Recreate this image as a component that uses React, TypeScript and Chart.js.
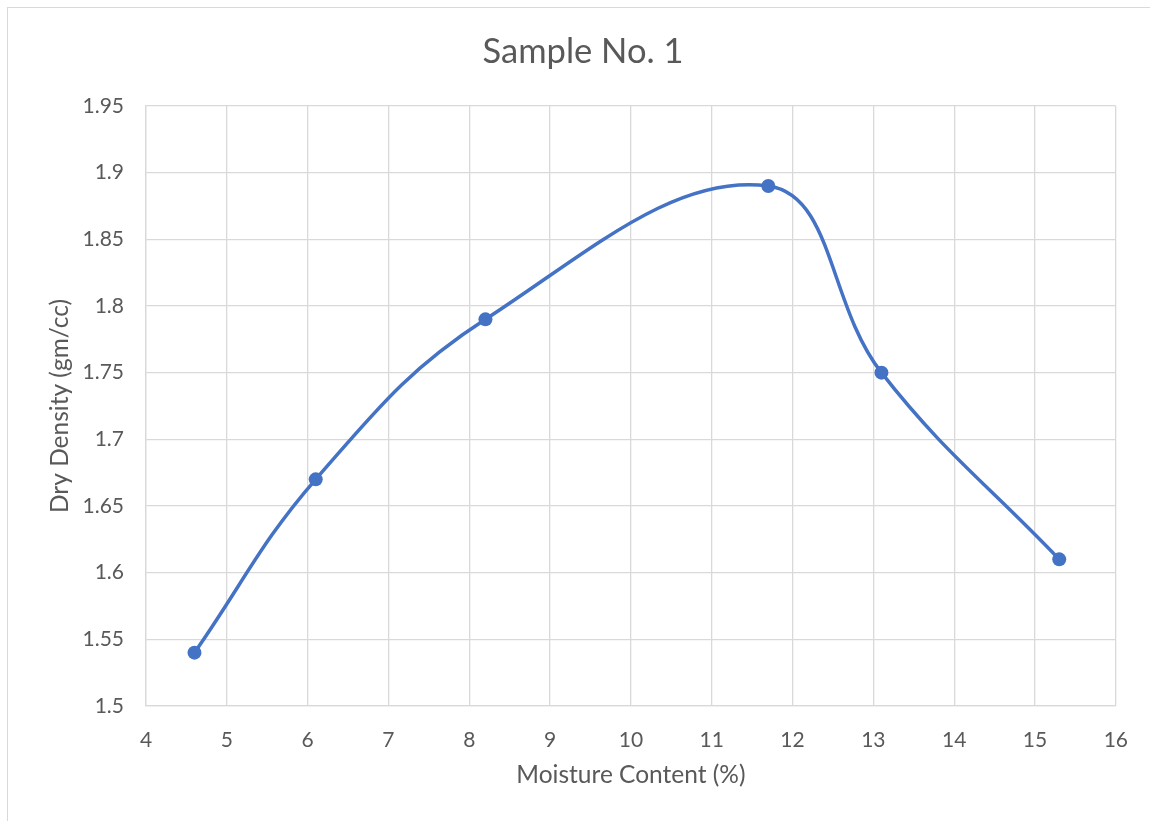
import React, { useEffect, useRef } from "react";
import { Chart, registerables } from "chart.js";

Chart.register(...registerables);

const chartTitle = "Sample No. 1";
const xAxisTitle = "Moisture Content (%)";
const yAxisTitle = "Dry Density (gm/cc)";
const moisture = [4.6, 6.1, 8.2, 11.7, 13.1, 15.3];
const dryDensity = [1.54, 1.67, 1.79, 1.89, 1.75, 1.61];
const xMin = 4;
const xMax = 16;
const yMin = 1.5;
const yMax = 1.95;

const FONT = "Lato, 'Open Sans', sans-serif";
const TEXT = "#595959";
const GRID = "#d9d9d9";
const BLUE = "#4472C4";

export default function App() {
  const ref = useRef<HTMLCanvasElement | null>(null);
  useEffect(() => {
    if (!ref.current) return;
    const titlePlugin = {
      id: "customTitle",
      afterDraw(chart: any) {
        const ctx = chart.ctx;
        ctx.save();
        ctx.font = `34.5px ${FONT}`;
        ctx.fillStyle = TEXT;
        ctx.textAlign = "center";
        ctx.textBaseline = "middle";
        ctx.fillText(chartTitle, 583, 52);
        ctx.restore();
      },
    };
    const chart = new Chart(ref.current, {
      type: "scatter",
      data: {
        datasets: [
          {
            data: moisture.map((x, i) => ({ x, y: dryDensity[i] })),
            showLine: true,
            borderColor: BLUE,
            backgroundColor: BLUE,
            borderWidth: 3.5,
            pointRadius: 7,
            pointHoverRadius: 7,
            pointBorderWidth: 0,
            tension: 0.4,
          },
        ],
      },
      options: {
        animation: false,
        responsive: false,
        maintainAspectRatio: false,
        layout: { padding: { top: 106, right: 32, left: 0, bottom: 0 } },
        plugins: { legend: { display: false }, tooltip: { enabled: false }, title: { display: false } },
        scales: {
          x: {
            type: "linear",
            min: xMin,
            max: xMax,
            ticks: {
              stepSize: 1,
              color: TEXT,
              font: { family: FONT, size: 21 },
              padding: 22,
            },
            grid: { color: GRID, lineWidth: 1.3, drawTicks: false },
            border: { color: GRID, width: 1.3 },
            title: {
              display: true,
              text: xAxisTitle,
              color: TEXT,
              font: { family: FONT, size: 24.5 },
              padding: { top: 0, bottom: 31 },
            },
            afterFit(scale: any) {
              scale.height = 115;
            },
          },
          y: {
            type: "linear",
            min: yMin,
            max: yMax,
            ticks: {
              stepSize: 0.05,
              color: TEXT,
              font: { family: FONT, size: 21 },
              padding: 22,
              callback: (v: any) => String(Number(Number(v).toFixed(2))),
            },
            grid: { color: GRID, lineWidth: 1.3, drawTicks: false },
            border: { color: GRID, width: 1.3 },
            title: {
              display: true,
              text: yAxisTitle,
              color: TEXT,
              font: { family: FONT, size: 24.5 },
              padding: { top: 45, bottom: 0 },
            },
            afterFit(scale: any) {
              scale.width = 146;
            },
          },
        },
      },
      plugins: [titlePlugin],
    });
    return () => chart.destroy();
  }, []);
  return (
    <div style={{ position: "absolute", left: 0, top: 0, width: 1150, height: 821, background: "#fff", overflow: "hidden" }}>
      <div
        style={{
          position: "absolute",
          left: 7,
          top: 7,
          width: 1160,
          height: 830,
          borderLeft: "1.5px solid #d9d9d9",
          borderTop: "1.5px solid #d9d9d9",
        }}
      />
      <canvas ref={ref} width={1150} height={821} style={{ position: "absolute", left: 0, top: 0 }} />
    </div>
  );
}
